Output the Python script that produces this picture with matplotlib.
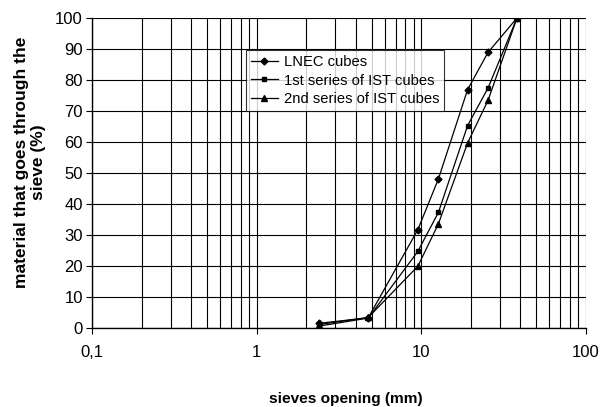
import matplotlib.pyplot as plt
from matplotlib.ticker import FixedLocator, FixedFormatter, NullFormatter

plt.rcParams['font.family'] = ['Liberation Sans', 'DejaVu Sans']

# Sieve openings (mm) and percentage passing
sieves = [2.38, 4.76, 9.52, 12.7, 19.1, 25.4, 38.1]
lnec = [1.5, 3.3, 31.7, 48.1, 76.9, 88.9, 100]
ist1 = [0.6, 3.2, 24.7, 37.3, 65.3, 77.4, 100]
ist2 = [1.1, 3.4, 19.9, 33.6, 59.7, 73.4, 100]

x_ticks = [0.1, 1, 10, 100]
x_labels = ['0,1', '1', '10', '100']
y_ticks = list(range(0, 101, 10))

W, H = 606, 407
fig = plt.figure(figsize=(W / 100, H / 100), dpi=100)
ax = fig.add_axes([92 / W, 1 - 328 / H, (586 - 92) / W, (328 - 18) / H])

ax.plot(sieves, lnec, color='black', lw=0.9, marker='D', ms=3.5, label='LNEC cubes')
ax.plot(sieves, ist1, color='black', lw=0.9, marker='s', ms=3, label='1st series of IST cubes')
ax.plot(sieves, ist2, color='black', lw=0.9, marker='^', ms=4.5, label='2nd series of IST cubes')

ax.set_xscale('log')
ax.set_xlim(0.1, 100)
ax.set_ylim(0, 100)

ax.xaxis.set_major_locator(FixedLocator(x_ticks))
ax.xaxis.set_major_formatter(FixedFormatter(x_labels))
minor = [m * d for d in (0.1, 1, 10) for m in range(2, 10)]
ax.xaxis.set_minor_locator(FixedLocator(minor))
ax.xaxis.set_minor_formatter(NullFormatter())
ax.set_yticks(y_ticks)

ax.grid(True, which='major', color='black', lw=0.8)
ax.grid(True, which='minor', axis='x', color='black', lw=0.8)

ax.tick_params(axis='x', which='major', length=4, width=0.8, pad=8, labelsize=12)
ax.tick_params(axis='x', which='minor', length=0)
ax.tick_params(axis='y', length=4.5, width=0.8, pad=2, labelsize=12)

for s in ['top', 'right']:
    ax.spines[s].set_visible(False)
for s in ['left', 'bottom']:
    ax.spines[s].set_linewidth(1.0)

fig.text(346 / W, 1 - 399 / H, 'sieves opening (mm)', fontsize=11.1, fontweight='bold',
         ha='center', va='center')
fig.text(30 / W, 1 - 162 / H, 'material that goes through the\nsieve (%)', fontsize=12.5,
         fontweight='bold', ha='center', va='center', rotation=90, linespacing=1.1)

leg = ax.legend(loc='upper left', bbox_to_anchor=((246 - 92) / 494, 1 - (50 - 18) / 310),
                frameon=True, fancybox=False, edgecolor='black', fontsize=10.6,
                handlelength=1.8, borderpad=0.35, labelspacing=0.3, handletextpad=0.4,
                borderaxespad=0)
leg.get_frame().set_linewidth(0.8)

fig.savefig('out.png', dpi=100)
